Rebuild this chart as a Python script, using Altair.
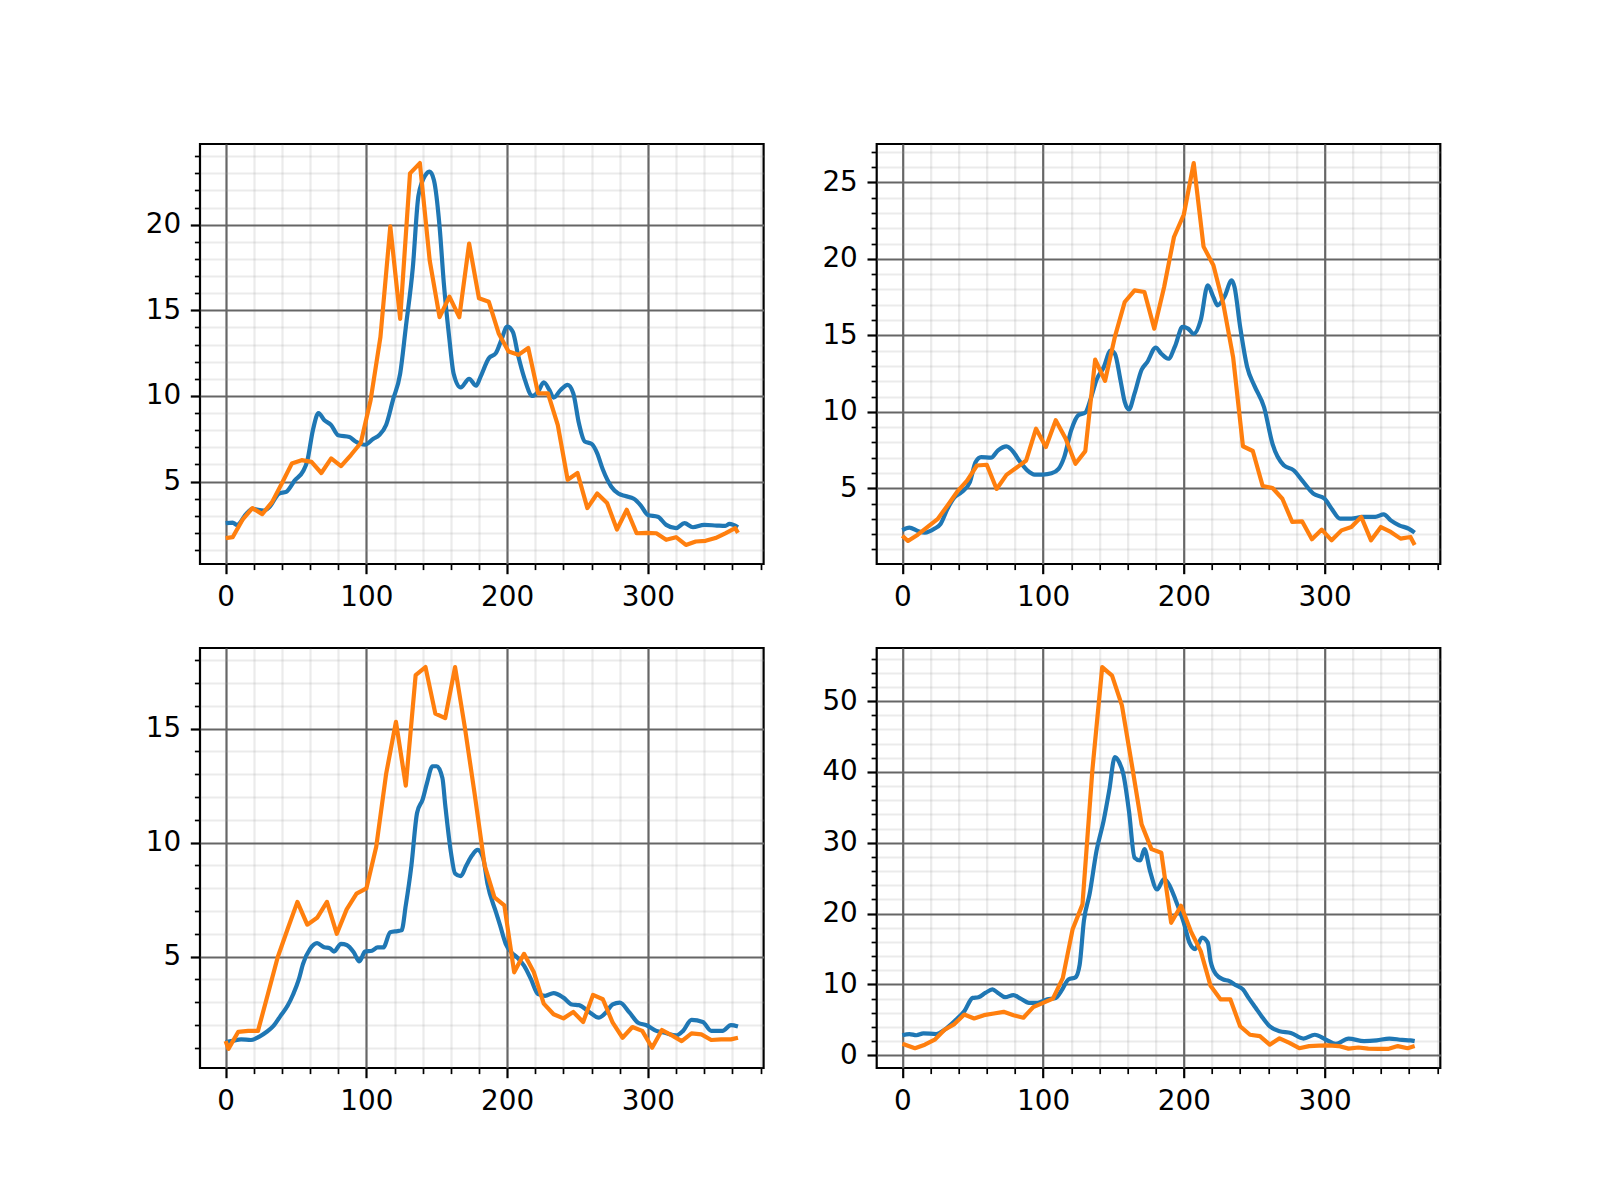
import math

import altair as alt
import pandas as pd

# ---- data (day of year -> value) ----
P1_BLUE_DAYS = [0, 5, 8, 15, 19, 27, 31, 38, 43, 49, 55, 58, 62, 66, 70, 75, 80, 88, 92, 99,
                105, 109, 114, 119, 124, 128, 133, 137, 142, 145, 148, 152, 155, 159, 162, 167,
                173, 178, 181, 187, 192, 196, 200, 204, 208, 212, 218, 222, 226, 230, 233, 238,
                243, 247, 251, 255, 260, 264, 268, 274, 279, 284, 290, 295, 300, 307, 313, 320,
                326, 332, 340, 349, 355, 358, 364]
P1_BLUE = [2.57, 2.6, 2.47, 3.15, 3.4, 3.3, 3.5, 4.3, 4.4, 5.05, 5.6, 6.2, 8.0, 9.0, 8.6, 8.3,
           7.7, 7.6, 7.35, 7.15, 7.5, 7.7, 8.3, 9.8, 11.3, 14.0, 17.5, 21.7, 22.9, 23.1, 22.6,
           19.9, 16.6, 13.3, 11.3, 10.5, 11.0, 10.6, 11.1, 12.2, 12.5, 13.3, 14.05, 13.75, 12.3,
           11.1, 10.0, 10.25, 10.8, 10.35, 9.9, 10.35, 10.65, 10.15, 8.4, 7.35, 7.2, 6.65, 5.7,
           4.7, 4.3, 4.15, 4.0, 3.6, 3.05, 2.95, 2.47, 2.28, 2.57, 2.33, 2.47, 2.43, 2.41, 2.53,
           2.33]
P1_ORANGE_DAYS = [0] + list(range(5, 363, 7)) + [364]
P1_ORANGE = [1.7, 1.75, 2.77, 3.45, 3.1, 3.8, 4.9, 6.05, 6.25, 6.15, 5.5, 6.35, 5.9, 6.55, 7.25,
             9.75, 13.45, 19.9, 14.5, 23.0, 23.6, 17.9, 14.6, 15.8, 14.6, 18.9, 15.7, 15.5, 13.65,
             12.6, 12.4, 12.8, 10.15, 10.15, 8.3, 5.1, 5.5, 3.45, 4.3, 3.75, 2.2, 3.35, 1.98, 2.0,
             1.98, 1.6, 1.75, 1.3, 1.5, 1.54, 1.7, 1.98, 2.28, 2.0]

P2_BLUE_DAYS = [0, 5, 11, 16, 23, 27, 32, 37, 42, 48, 52, 56, 63, 68, 74, 79, 83, 89, 94, 100,
                106, 111, 115, 120, 125, 130, 134, 138, 143, 148, 151, 155, 158, 161, 165, 170,
                174, 180, 184, 189, 194, 199, 203, 207, 212, 217, 221, 224, 229, 234, 236, 240,
                245, 250, 257, 263, 271, 278, 284, 292, 300, 305, 311, 319, 327, 336, 342, 347,
                353, 360, 364]
P2_BLUE = [2.26, 2.43, 2.21, 2.1, 2.37, 2.65, 3.64, 4.4, 4.74, 5.4, 6.7, 7.04, 7.0, 7.48, 7.74,
           7.37, 6.82, 6.16, 5.9, 5.9, 5.98, 6.27, 7.04, 8.8, 9.78, 9.95, 10.9, 12.1, 12.9, 14.0,
           13.8, 12.06, 10.65, 10.15, 11.2, 12.75, 13.25, 14.2, 13.8, 13.47, 14.35, 15.55, 15.44,
           15.1, 16.0, 18.27, 17.5, 16.96, 17.55, 18.6, 18.16, 15.55, 12.93, 11.73, 10.3, 7.9,
           6.5, 6.18, 5.52, 4.65, 4.32, 3.67, 3.02, 3.02, 3.13, 3.13, 3.3, 2.9, 2.58, 2.35, 2.1]
P2_ORANGE_DAYS = [0] + list(range(4, 362, 7)) + [364]
P2_ORANGE = [1.9, 1.56, 1.97, 2.48, 2.98, 3.86, 4.78, 5.5, 6.49, 6.54, 4.96, 5.88, 6.34, 6.82,
             8.9, 7.7, 9.45, 8.25, 6.6, 7.43, 13.41, 12.02, 14.9, 17.18, 17.94, 17.83, 15.44,
             18.16, 21.43, 22.9, 26.26, 20.8, 19.58, 17.07, 13.58, 7.75, 7.44, 5.15, 5.02, 4.32,
             2.8, 2.84, 1.67, 2.3, 1.6, 2.25, 2.47, 3.13, 1.6, 2.47, 2.15, 1.71, 1.82, 1.3]

P3_BLUE_DAYS = [0, 5, 11, 18, 24, 29, 34, 39, 44, 48, 52, 55, 60, 65, 70, 74, 77, 82, 86, 91,
                95, 99, 104, 108, 112, 117, 122, 125, 128, 132, 136, 140, 143, 147, 150, 154,
                156, 160, 163, 167, 171, 175, 179, 183, 186, 192, 195, 199, 203, 207, 212, 217,
                222, 227, 233, 240, 246, 251, 259, 265, 270, 275, 280, 287, 293, 299, 306, 312,
                320, 325, 331, 339, 345, 353, 359, 364]
P3_BLUE = [1.25, 1.3, 1.37, 1.34, 1.49, 1.69, 1.96, 2.4, 2.84, 3.35, 4.0, 4.68, 5.34, 5.59,
           5.41, 5.37, 5.22, 5.56, 5.51, 5.19, 4.79, 5.22, 5.26, 5.4, 5.4, 6.07, 6.12, 6.15,
           7.25, 9.0, 11.3, 11.9, 12.6, 13.35, 13.35, 12.84, 11.66, 9.6, 8.65, 8.53, 9.0, 9.43,
           9.68, 9.31, 8.2, 6.96, 6.37, 5.56, 5.19, 4.97, 4.6, 4.0, 3.35, 3.28, 3.4, 3.2, 2.9,
           2.87, 2.54, 2.32, 2.54, 2.9, 2.98, 2.54, 2.1, 1.99, 1.74, 1.66, 1.54, 1.74, 2.22,
           2.13, 1.74, 1.74, 1.99, 1.93]
P3_ORANGE_DAYS = [0] + list(range(2, 360, 7)) + [364]
P3_ORANGE = [1.3, 0.95, 1.7, 1.74, 1.74, 3.35, 4.97, 6.2, 7.4, 6.4, 6.7, 7.4, 6.0, 7.07, 7.76,
             7.99, 9.82, 13.0, 15.3, 12.5, 17.35, 17.7, 15.66, 15.46, 17.7, 15.04, 12.1, 9.0,
             7.6, 7.25, 4.31, 5.12, 4.31, 2.94, 2.47, 2.29, 2.57, 2.13, 3.32, 3.13, 2.1, 1.44,
             1.91, 1.74, 1.0, 1.78, 1.54, 1.29, 1.63, 1.59, 1.34, 1.37, 1.37, 1.44]

P4_BLUE_DAYS = [0, 5, 10, 15, 24, 30, 37, 44, 50, 54, 59, 64, 68, 73, 79, 84, 90, 96, 103,
                109, 113, 118, 123, 126, 129, 133, 138, 143, 147, 151, 154, 157, 161, 165, 169,
                172, 176, 181, 186, 190, 194, 200, 204, 208, 213, 217, 219, 223, 228, 232, 237,
                242, 246, 251, 256, 261, 268, 276, 285, 293, 301, 308, 317, 328, 337, 346, 355,
                361, 364]
P4_BLUE = [2.83, 3.0, 2.83, 3.1, 3.0, 3.6, 4.8, 6.2, 8.1, 8.2, 8.8, 9.3, 8.8, 8.2, 8.5, 8.0,
           7.4, 7.4, 7.9, 8.1, 9.1, 10.7, 11.0, 12.8, 19.0, 22.7, 28.9, 33.1, 37.4, 42.1, 41.4,
           39.7, 34.5, 27.9, 27.5, 29.1, 26.0, 23.4, 24.9, 23.9, 22.0, 18.7, 15.9, 15.0, 16.6,
           15.9, 13.3, 11.4, 10.7, 10.5, 9.9, 9.3, 8.1, 6.7, 5.3, 4.1, 3.4, 3.16, 2.36, 2.9,
           2.2, 1.6, 2.36, 2.0, 2.1, 2.36, 2.17, 2.1, 2.0]
P4_ORANGE_DAYS = [0] + list(range(2, 360, 7)) + [364]
P4_ORANGE = [1.6, 1.5, 1.0, 1.5, 2.2, 3.6, 4.4, 5.75, 5.2, 5.66, 5.9, 6.13, 5.66, 5.3, 6.8,
             7.4, 8.0, 10.9, 17.8, 21.3, 40.2, 54.8, 53.6, 49.4, 41.1, 32.6, 29.1, 28.6, 18.7,
             21.1, 17.5, 14.7, 9.8, 7.9, 7.9, 4.1, 2.9, 2.7, 1.5, 2.4, 1.75, 1.0, 1.3, 1.37,
             1.4, 1.3, 0.94, 1.1, 0.94, 0.9, 0.9, 1.3, 1.0, 1.3]

X_TICKS = list(range(0, 381, 20))  # major every 100, minor every 20

BLUE = "#1f77b4"
ORANGE = "#ff7f0e"
W, H = 563.6, 420


# major grid: #666666 solid; minor grid: #999999 at 20 % opacity
def grid_color(test):
    return {"condition": {"test": test, "value": "#666666"}, "value": "#999999"}


def grid_opacity(test):
    return {"condition": {"test": test, "value": 1}, "value": 0.2}


def tick_size(test):
    return {"condition": {"test": test, "value": 9.7}, "value": 5.6}


def tick_width(test):
    return {"condition": {"test": test, "value": 2.2}, "value": 1.7}


def panel(bdays, bvals, odays, ovals, step, major):
    lo, hi = min(bvals + ovals), max(bvals + ovals)
    m = 0.05 * (hi - lo)
    y_dom = [lo - m, hi + m]
    y_ticks = list(range(math.ceil(y_dom[0] / step) * step, int(y_dom[1]) + 1, step))

    xtest = "datum.value % 100 === 0"
    ytest = f"datum.value % {major} === 0"
    x = alt.X(
        "day:Q",
        scale=alt.Scale(domain=[-18.2, 382.2], nice=False, zero=False),
        axis=alt.Axis(values=X_TICKS, labelExpr=f"{xtest} ? datum.label : ''",
                      gridColor=grid_color(xtest), gridOpacity=grid_opacity(xtest),
                      tickSize=tick_size(xtest), tickWidth=tick_width(xtest), title=None),
    )
    y = alt.Y(
        "value:Q",
        scale=alt.Scale(domain=y_dom, nice=False, zero=False),
        axis=alt.Axis(values=y_ticks, labelExpr=f"{ytest} ? datum.label : ''",
                      gridColor=grid_color(ytest), gridOpacity=grid_opacity(ytest),
                      tickSize=tick_size(ytest), tickWidth=tick_width(ytest), title=None),
    )

    blue = alt.Chart(pd.DataFrame({"day": bdays, "value": bvals})).mark_line(
        color=BLUE, strokeWidth=4.2, interpolate="monotone", strokeJoin="round"
    ).encode(x=x, y=y)
    orange = alt.Chart(pd.DataFrame({"day": odays, "value": ovals})).mark_line(
        color=ORANGE, strokeWidth=4.2, strokeJoin="round"
    ).encode(x=x, y=y)
    return alt.layer(blue, orange).properties(width=W, height=H)


p1 = panel(P1_BLUE_DAYS, P1_BLUE, P1_ORANGE_DAYS, P1_ORANGE, 1, 5)
p2 = panel(P2_BLUE_DAYS, P2_BLUE, P2_ORANGE_DAYS, P2_ORANGE, 1, 5)
p3 = panel(P3_BLUE_DAYS, P3_BLUE, P3_ORANGE_DAYS, P3_ORANGE, 1, 5)
p4 = panel(P4_BLUE_DAYS, P4_BLUE, P4_ORANGE_DAYS, P4_ORANGE, 2, 10)

chart = (
    alt.concat(p1, p2, p3, p4, columns=2,
               spacing={"row": 84, "column": 112.7}, bounds="flush")
    .properties(padding={"left": 136, "top": 128, "right": 5, "bottom": 5})
    .configure_view(stroke="black", strokeWidth=2.2)
    .configure_axis(
        domain=False,
        grid=True,
        gridWidth=2.2,
        tickColor="black",
        labelFont="DejaVu Sans",
        labelFontSize=27.8,
        labelColor="black",
        labelPadding=9.7,
        labelFlush=False,
        labelOverlap=False,
    )
)

chart.save("out.html", embed_options={"renderer": "svg", "actions": False})
